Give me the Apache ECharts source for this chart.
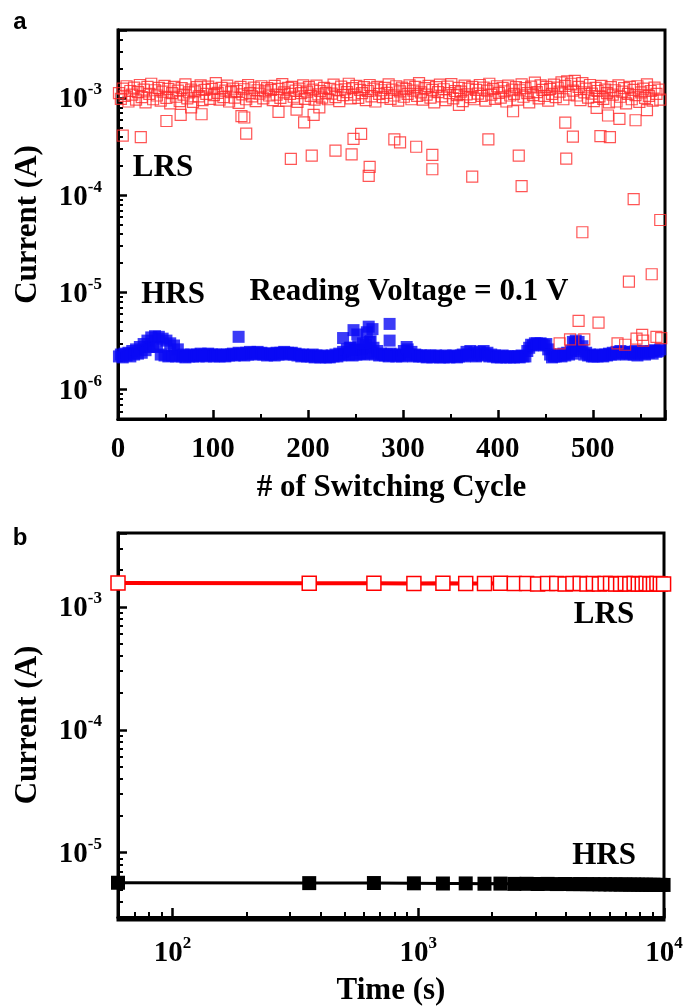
<!DOCTYPE html>
<html>
<head>
<meta charset="utf-8">
<title>Endurance and retention</title>
<script src="https://cdn.jsdelivr.net/npm/echarts@6/dist/echarts.min.js"></script>
<style>
html, body { margin: 0; padding: 0; background: #fff; }
#content { width: 686px; height: 1007px; }
</style>
</head>
<body>
<div id="content"></div>
<script>
// (a) endurance, band read every 2 cycles starting at cycle 1
var bandFirstCycle = 1;
var bandStep = 2;
// LRS band, mA
var lrsBand = [
    1.12, 0.98, 1.25, 1.05, 1.32, 0.92, 1.18, 1.08, 1.28, 0.96,
    1.15, 1.36, 1.02, 1.22, 0.90, 1.30, 1.10, 1.40, 0.97, 1.20,
    1.06, 1.27, 0.94, 1.16, 1.33, 1.00, 1.24, 0.88, 1.12, 1.30,
    1.03, 1.19, 0.93, 1.26, 1.08, 1.38, 0.99, 1.14, 1.22, 0.91,
    1.17, 1.29, 1.04, 1.35, 0.95, 1.21, 1.10, 1.31, 0.98, 1.24,
    1.07, 1.42, 1.13, 0.96, 1.27, 1.02, 1.19, 1.34, 0.92, 1.15,
    1.25, 1.01, 1.18, 0.89, 1.30, 1.09, 1.23, 0.97, 1.36, 1.12,
    1.04, 1.28, 0.93, 1.20, 1.11, 1.32, 0.99, 1.17, 1.26, 1.06,
    1.21, 0.95, 1.33, 1.08, 1.24, 1.00, 1.39, 1.14, 0.94, 1.27,
    1.10, 1.30, 1.03, 1.19, 0.91, 1.25, 1.12, 1.35, 0.98, 1.16,
    1.29, 1.05, 1.22, 0.96, 1.34, 1.09, 1.18, 1.01, 1.27, 1.13,
    0.97, 1.24, 1.11, 1.37, 1.02, 1.20, 0.93, 1.31, 1.07, 1.23,
    1.15, 1.40, 0.99, 1.26, 1.08, 1.33, 1.00, 1.21, 1.12, 1.29,
    0.95, 1.18, 1.36, 1.04, 1.25, 0.92, 1.30, 1.10, 1.20, 1.02,
    1.27, 1.13, 1.38, 0.98, 1.22, 1.06, 1.32, 0.94, 1.17, 1.28,
    1.03, 1.24, 1.10, 1.35, 0.97, 1.19, 1.30, 1.05, 1.42, 1.14,
    0.96, 1.26, 1.08, 1.33, 1.01, 1.21, 0.90, 1.29, 1.15, 1.37,
    1.04, 1.23, 0.95, 1.31, 1.12, 1.39, 0.99, 1.18, 1.07, 1.27,
    1.16, 0.93, 1.34, 1.09, 1.25, 1.02, 1.30, 0.97, 1.21, 1.11,
    1.36, 1.05, 1.28, 0.94, 1.19, 1.40, 1.08, 1.24, 0.98, 1.32,
    1.13, 1.01, 1.27, 1.17, 0.92, 1.34, 1.06, 1.22, 1.10, 1.29,
    0.96, 1.20, 1.38, 1.03, 1.26, 1.12, 0.90, 1.31, 1.07, 1.44,
    1.15, 0.99, 1.35, 1.21, 1.05, 1.30, 0.94, 1.24, 1.10, 1.37,
    1.02, 1.28, 1.16, 1.45, 0.97, 1.33, 1.48, 1.08, 1.40, 1.19,
    1.50, 1.06, 1.30, 0.95, 1.42, 1.14, 1.25, 1.01, 1.36, 1.11,
    0.93, 1.27, 1.18, 1.04, 1.33, 0.98, 1.22, 1.12, 0.90, 1.29,
    1.08, 1.20, 0.92, 1.35, 1.03, 1.16, 1.26, 0.88, 1.10, 1.30,
    0.97, 1.21, 1.07, 1.32, 0.91, 1.14, 1.25, 1.00, 1.38, 1.05,
    1.18, 0.94, 1.28, 1.10, 1.22, 0.96
];
// HRS band, uA
var hrsBand = [
    2.20, 2.30, 2.15, 2.35, 2.25, 2.40, 2.20, 2.50, 2.30, 2.60,
    2.35, 2.75, 2.40, 2.95, 2.55, 3.20, 2.75, 3.45, 2.80, 3.55,
    2.75, 3.50, 2.30, 3.35, 2.25, 3.20, 2.20, 3.00, 2.25, 2.85,
    2.20, 2.60, 2.25, 2.20, 2.30, 2.15, 2.25, 2.20, 2.30, 2.20,
    2.25, 2.30, 2.20, 2.35, 2.25, 2.30, 2.20, 2.35, 2.25, 2.30,
    2.20, 2.30, 2.25, 2.20, 2.30, 2.25, 2.20, 2.30, 2.25, 2.30,
    2.35, 2.25, 2.30, 2.40, 2.30, 2.35, 2.25, 2.40, 2.30, 2.45,
    2.35, 2.40, 2.30, 2.45, 2.35, 2.40, 2.30, 2.35, 2.25, 2.35,
    2.30, 2.35, 2.25, 2.40, 2.30, 2.40, 2.35, 2.45, 2.30, 2.40,
    2.35, 2.40, 2.30, 2.35, 2.25, 2.30, 2.20, 2.30, 2.25, 2.20,
    2.25, 2.20, 2.30, 2.15, 2.25, 2.20, 2.15, 2.25, 2.20, 2.15,
    2.20, 2.15, 2.25, 2.20, 2.30, 2.20, 2.35, 2.25, 2.45, 2.30,
    2.60, 2.30, 2.70, 2.25, 2.55, 2.30, 2.80, 2.35, 2.60, 2.30,
    2.90, 2.35, 3.10, 2.40, 2.70, 2.30, 2.50, 2.25, 2.35, 2.30,
    2.25, 2.30, 2.20, 2.35, 2.25, 2.30, 2.20, 2.25, 2.30, 2.20,
    2.50, 2.25, 2.60, 2.30, 2.45, 2.20, 2.30, 2.25, 2.20, 2.25,
    2.20, 2.25, 2.15, 2.20, 2.25, 2.15, 2.20, 2.25, 2.20, 2.15,
    2.20, 2.15, 2.25, 2.20, 2.15, 2.20, 2.25, 2.20, 2.15, 2.20,
    2.25, 2.30, 2.20, 2.45, 2.30, 2.50, 2.25, 2.40, 2.20, 2.30,
    2.45, 2.25, 2.50, 2.30, 2.40, 2.20, 2.30, 2.20, 2.25, 2.15,
    2.20, 2.15, 2.25, 2.20, 2.15, 2.20, 2.15, 2.20, 2.15, 2.20,
    2.20, 2.15, 2.25, 2.20, 2.20, 2.50, 2.70, 2.90, 2.85, 3.00,
    3.00, 2.95, 3.00, 2.90, 2.85, 2.95, 2.60, 2.30, 2.15, 2.20,
    2.20, 2.25, 2.30, 2.20, 2.35, 2.25, 2.40, 2.30, 2.50, 2.35,
    3.00, 2.60, 3.10, 2.50, 2.80, 2.30, 2.40, 2.25, 2.30, 2.20,
    2.20, 2.25, 2.20, 2.30, 2.25, 2.20, 2.30, 2.25, 2.35, 2.30,
    2.40, 2.30, 2.45, 2.35, 2.50, 2.40, 2.45, 2.30, 2.40, 2.35,
    2.45, 2.30, 2.50, 2.25, 2.40, 2.35, 2.50, 2.30, 2.45, 2.40,
    2.50, 2.35, 2.55, 2.45, 2.50, 2.60
];
// points off the band, [cycle, mA]
var lrsScatter = [
    [5, 0.41], [24, 0.395], [51, 0.58], [66, 0.67], [77, 0.80], [88, 0.68],
    [130, 0.65], [133, 0.63], [135, 0.43], [169, 0.72], [182, 0.236], [188, 0.76],
    [196, 0.56], [204, 0.255], [206, 0.67], [212, 0.80], [229, 0.287], [246, 0.263],
    [248, 0.379], [256, 0.427], [264, 0.158], [265, 0.196], [291, 0.375], [297, 0.35],
    [314, 0.315], [331, 0.26], [331, 0.185], [359, 0.85], [373, 0.155], [390, 0.376],
    [416, 0.73], [422, 0.255], [425, 0.124], [465, 0.0030], [471, 0.557], [472, 0.238],
    [476, 0.0033], [479, 0.40], [485, 0.0051], [489, 0.0416], [491, 0.0033], [504, 0.79],
    [506, 0.0049], [508, 0.406], [516, 0.66], [518, 0.395], [526, 0.0030], [528, 0.61],
    [534, 0.0029], [538, 0.0129], [543, 0.091], [545, 0.59], [546, 0.00335], [552, 0.00366],
    [553, 0.0032], [557, 0.75], [562, 0.0154], [567, 0.0035], [571, 0.0556], [572, 0.0034]
];
// [cycle, uA]
var hrsScatter = [
    [127, 3.5], [237, 3.4], [244, 2.7], [248, 4.1], [252, 3.7], [258, 3.0],
    [262, 3.9], [264, 4.45], [266, 3.15], [268, 4.2], [286, 4.75], [286, 3.2],
    [304, 2.75], [479, 3.1], [482, 3.2]
];

// (b) retention
var retentionTime = [60, 360, 660, 960, 1260, 1560, 1860, 2160, 2460, 2760, 3060, 3360,
    3660, 3960, 4260, 4560, 4860, 5160, 5460, 5760, 6060, 6360, 6660, 6960,
    7260, 7560, 7860, 8160, 8460, 8760, 9060, 9360, 9660, 9960];
// mA
var lrsRetention = [1.57, 1.56, 1.56, 1.55, 1.56, 1.55, 1.55, 1.56, 1.55, 1.55, 1.54, 1.55,
    1.55, 1.54, 1.55, 1.55, 1.54, 1.55, 1.54, 1.55, 1.55, 1.54, 1.54, 1.55,
    1.54, 1.55, 1.54, 1.54, 1.55, 1.54, 1.54, 1.55, 1.54, 1.54];
// uA
var hrsRetention = [5.70, 5.66, 5.67, 5.64, 5.62, 5.63, 5.60, 5.61, 5.58, 5.59, 5.57, 5.58,
    5.56, 5.57, 5.55, 5.56, 5.54, 5.55, 5.53, 5.54, 5.52, 5.53, 5.51, 5.52,
    5.50, 5.51, 5.50, 5.49, 5.50, 5.48, 5.49, 5.47, 5.48, 5.47];

var serif = '"Liberation Serif", "Times New Roman", serif';

var chartObj = {
    init : function() {
        var chart = echarts.init(document.getElementById('content'));
        chart.setOption(this.buildOption());
    },
    powLabel : function(v) {
        var e = Math.round(Math.log(v) / Math.LN10);
        if (Math.abs(v / Math.pow(10, e) - 1) > 1e-6) {
            return '';
        }
        return '{b|10}{s|' + e + '}';
    },
    powRich : function() {
        return {
            b : {
                fontFamily : serif,
                fontWeight : 'bold',
                fontSize : 29,
                lineHeight : 33,
                verticalAlign : 'bottom',
                color : '#000'
            },
            s : {
                fontFamily : serif,
                fontWeight : 'bold',
                fontSize : 17,
                lineHeight : 17,
                verticalAlign : 'top',
                color : '#000'
            }
        };
    },
    // labelled axis: line, labels and name
    makeAxis : function(p) {
        var that = this;
        var label;
        if (p.pow) {
            label = {
                margin : p.labelMargin,
                showMinLabel : p.showMin,
                showMaxLabel : p.showMax,
                formatter : function(v) {
                    return that.powLabel(v);
                },
                rich : this.powRich()
            };
        } else {
            label = {
                margin : p.labelMargin,
                showMaxLabel : p.showMax,
                fontFamily : serif,
                fontWeight : 'bold',
                fontSize : 29,
                color : '#000'
            };
        }
        var axis = {
            type : p.type,
            gridIndex : p.grid,
            position : p.pos,
            min : p.min,
            max : p.max,
            name : p.name,
            nameLocation : 'middle',
            nameGap : p.nameGap,
            nameTextStyle : {
                fontFamily : serif,
                fontWeight : 'bold',
                fontSize : 31,
                color : '#000'
            },
            axisLine : {
                show : true,
                lineStyle : {
                    color : '#000',
                    width : 3
                }
            },
            axisTick : {
                show : false
            },
            axisLabel : label,
            splitLine : {
                show : false
            }
        };
        if (p.interval) {
            axis.interval = p.interval;
        }
        return axis;
    },
    // twin axis that only carries the inside ticks
    tickAxis : function(p) {
        var axis = {
            type : p.type,
            gridIndex : p.grid,
            position : p.pos,
            min : p.min,
            max : p.max,
            axisLine : {
                show : true,
                lineStyle : {
                    color : '#000',
                    width : 3
                }
            },
            axisTick : {
                show : true,
                inside : true,
                length : 9,
                lineStyle : {
                    color : '#000',
                    width : 2.5
                }
            },
            minorTick : {
                show : true,
                splitNumber : p.minor,
                length : 5,
                lineStyle : {
                    color : '#000',
                    width : 2
                }
            },
            axisLabel : {
                show : true,
                fontSize : 10,
                color : 'rgba(0,0,0,0)'
            },
            splitLine : {
                show : false
            }
        };
        if (p.interval) {
            axis.interval = p.interval;
        }
        return axis;
    },
    textItem : function(str, x, y, font) {
        return {
            type : 'text',
            x : x,
            y : y,
            style : {
                text : str,
                font : font,
                fill : '#000',
                align : 'center',
                verticalAlign : 'middle'
            }
        };
    },
    buildOption : function() {
        var lrsA = [], hrsA = [], lrsB = [], hrsB = [];
        lrsBand.forEach(function(v, i) {
            lrsA.push([bandFirstCycle + i * bandStep, v * 1e-3]);
        });
        lrsScatter.forEach(function(p) {
            lrsA.push([p[0], p[1] * 1e-3]);
        });
        hrsBand.forEach(function(v, i) {
            hrsA.push([bandFirstCycle + i * bandStep, v * 1e-6]);
        });
        hrsScatter.forEach(function(p) {
            hrsA.push([p[0], p[1] * 1e-6]);
        });
        retentionTime.forEach(function(t, i) {
            lrsB.push([t, lrsRetention[i] * 1e-3]);
            hrsB.push([t, hrsRetention[i] * 1e-6]);
        });

        var xA = {
            type : 'value', grid : 0, pos : 'bottom', min : 0, max : 576, interval : 100, minor : 2,
            name : '# of Switching Cycle', nameGap : 53, labelMargin : 16,
            pow : false, showMax : false
        };
        var yA = {
            type : 'log', grid : 0, pos : 'left', min : 5e-7, max : 5e-3, minor : 9,
            name : 'Current (A)', nameGap : 75, labelMargin : 16,
            pow : true, showMin : false, showMax : false
        };
        var xB = {
            type : 'log', grid : 1, pos : 'bottom', min : 60, max : 1e4, minor : 9,
            name : 'Time (s)', nameGap : 58, labelMargin : 18,
            pow : true, showMin : false, showMax : true
        };
        var yB = {
            type : 'log', grid : 1, pos : 'left', min : 3e-6, max : 4e-3, minor : 9,
            name : 'Current (A)', nameGap : 75, labelMargin : 16,
            pow : true, showMin : false, showMax : false
        };

        var textFont = 'bold 31px ' + serif;
        var tagFont = 'bold 24px "Liberation Sans", Arial, sans-serif';
        var option = {
            animation : false,
            grid : [{
                left : 118,
                top : 30,
                width : 547,
                height : 389
            }, {
                left : 118,
                top : 533,
                width : 546,
                height : 387
            }],
            xAxis : [this.makeAxis(xA), this.makeAxis(xB), this.tickAxis(xA), this.tickAxis(xB)],
            yAxis : [this.makeAxis(yA), this.makeAxis(yB), this.tickAxis(yA), this.tickAxis(yB)],
            series : [{
                name : 'HRS',
                type : 'scatter',
                xAxisIndex : 0,
                yAxisIndex : 0,
                symbol : 'rect',
                symbolSize : 12,
                itemStyle : {
                    color : '#0a0af5'
                },
                data : hrsA
            }, {
                name : 'LRS',
                type : 'scatter',
                xAxisIndex : 0,
                yAxisIndex : 0,
                symbol : 'rect',
                symbolSize : 11,
                itemStyle : {
                    color : 'rgba(255,255,255,0)',
                    borderColor : '#ff2b2b',
                    borderWidth : 1.2
                },
                data : lrsA
            }, {
                name : 'LRS retention',
                type : 'line',
                xAxisIndex : 1,
                yAxisIndex : 1,
                symbol : 'rect',
                symbolSize : 14,
                showAllSymbol : true,
                lineStyle : {
                    color : '#ff0000',
                    width : 4
                },
                itemStyle : {
                    color : '#fff',
                    borderColor : '#ff0000',
                    borderWidth : 1.5
                },
                data : lrsB
            }, {
                name : 'HRS retention',
                type : 'line',
                xAxisIndex : 1,
                yAxisIndex : 1,
                symbol : 'rect',
                symbolSize : 14,
                showAllSymbol : true,
                lineStyle : {
                    color : '#000',
                    width : 3
                },
                itemStyle : {
                    color : '#000'
                },
                data : hrsB
            }],
            graphic : [
                // panel frames (top and right edges)
                {
                    type : 'rect',
                    shape : { x : 118, y : 30, width : 547, height : 389 },
                    style : { fill : 'none', stroke : '#000', lineWidth : 3 },
                    silent : true
                },
                {
                    type : 'rect',
                    shape : { x : 118, y : 533, width : 546, height : 387 },
                    style : { fill : 'none', stroke : '#000', lineWidth : 3 },
                    silent : true
                },
                this.textItem('a', 20, 22, tagFont),
                this.textItem('b', 20, 538, tagFont),
                this.textItem('LRS', 163, 168, textFont),
                this.textItem('HRS', 173, 295, textFont),
                this.textItem('Reading Voltage = 0.1 V', 409, 292, textFont),
                this.textItem('LRS', 604, 615, textFont),
                this.textItem('HRS', 604, 856, textFont)
            ]
        };
        return option;
    }
};

chartObj.init();
</script>
</body>
</html>
